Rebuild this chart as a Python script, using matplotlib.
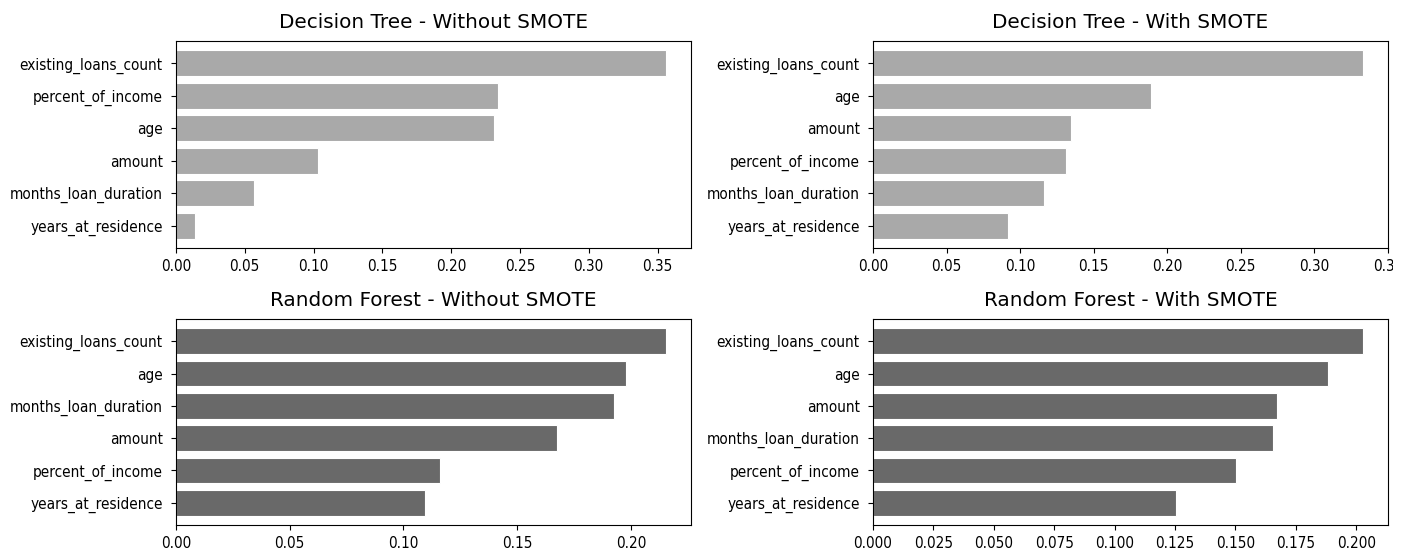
import matplotlib
matplotlib.use("Agg")
import matplotlib.pyplot as plt
from matplotlib import font_manager
from matplotlib.transforms import Bbox

# Data
dt_no_features = ["existing_loans_count", "percent_of_income", "age", "amount",
                  "months_loan_duration", "years_at_residence"]
dt_no_values = [0.3565, 0.234, 0.231, 0.103, 0.0567, 0.014]

dt_sm_features = ["existing_loans_count", "age", "amount", "percent_of_income",
                  "months_loan_duration", "years_at_residence"]
dt_sm_values = [0.3334, 0.189, 0.1344, 0.1313, 0.116, 0.0917]

rf_no_features = ["existing_loans_count", "age", "months_loan_duration", "amount",
                  "percent_of_income", "years_at_residence"]
rf_no_values = [0.2156, 0.198, 0.1924, 0.1675, 0.116, 0.1096]

rf_sm_features = ["existing_loans_count", "age", "amount", "months_loan_duration",
                  "percent_of_income", "years_at_residence"]
rf_sm_values = [0.203, 0.1882, 0.1674, 0.1656, 0.1502, 0.1253]

titles = ["Decision Tree - Without SMOTE", "Decision Tree - With SMOTE",
          "Random Forest - Without SMOTE", "Random Forest - With SMOTE"]

cond = [f for f in font_manager.fontManager.ttflist
        if f.name.startswith("DejaVu Sans") and "ondensed" in (f.fname + str(f.stretch))
        and "Bold" not in f.fname and "Oblique" not in f.fname]
if cond:
    tick_fp = font_manager.FontProperties(fname=cond[0].fname, size=11)
else:
    tick_fp = font_manager.FontProperties(family="DejaVu Sans", size=9.8)

W, H = 1410, 556
fig = plt.figure(figsize=(W / 100, H / 100), dpi=100)

def px_axes(l, r, t, b):
    return fig.add_axes([l / W, 1 - b / H, (r - l) / W, (b - t) / H])

panels = [
    (px_axes(176, 691, 41, 248), dt_no_features, dt_no_values, "#a9a9a9", titles[0]),
    (px_axes(873, 1388, 41, 248), dt_sm_features, dt_sm_values, "#a9a9a9", titles[1]),
    (px_axes(176, 691, 319, 525), rf_no_features, rf_no_values, "#696969", titles[2]),
    (px_axes(873, 1388, 319, 525), rf_sm_features, rf_sm_values, "#696969", titles[3]),
]

for ax, feats, vals, color, title in panels:
    y = list(range(len(feats)))
    ax.barh(y, vals, height=0.8, color=color, edgecolor="white", linewidth=0.8)
    ax.set_yticks(y)
    ax.set_yticklabels(feats)
    ax.invert_yaxis()
    ax.tick_params(axis="y", pad=6)
    ax.tick_params(axis="x", pad=4.5)
    ax.set_title(title, fontsize=14.4, pad=9.5)

fig.canvas.draw()
for ax, *_ in panels:
    for lab in ax.get_xticklabels() + ax.get_yticklabels():
        lab.set_fontproperties(tick_fp)

# the reference image is cut at the right edge, clipping the last tick label
clip = Bbox.from_extents(0, 0, 1393, H)
for lab in panels[1][0].get_xticklabels():
    lab.set_clip_box(clip)
    lab.set_clip_on(True)

fig.savefig("out.png", dpi=100)
